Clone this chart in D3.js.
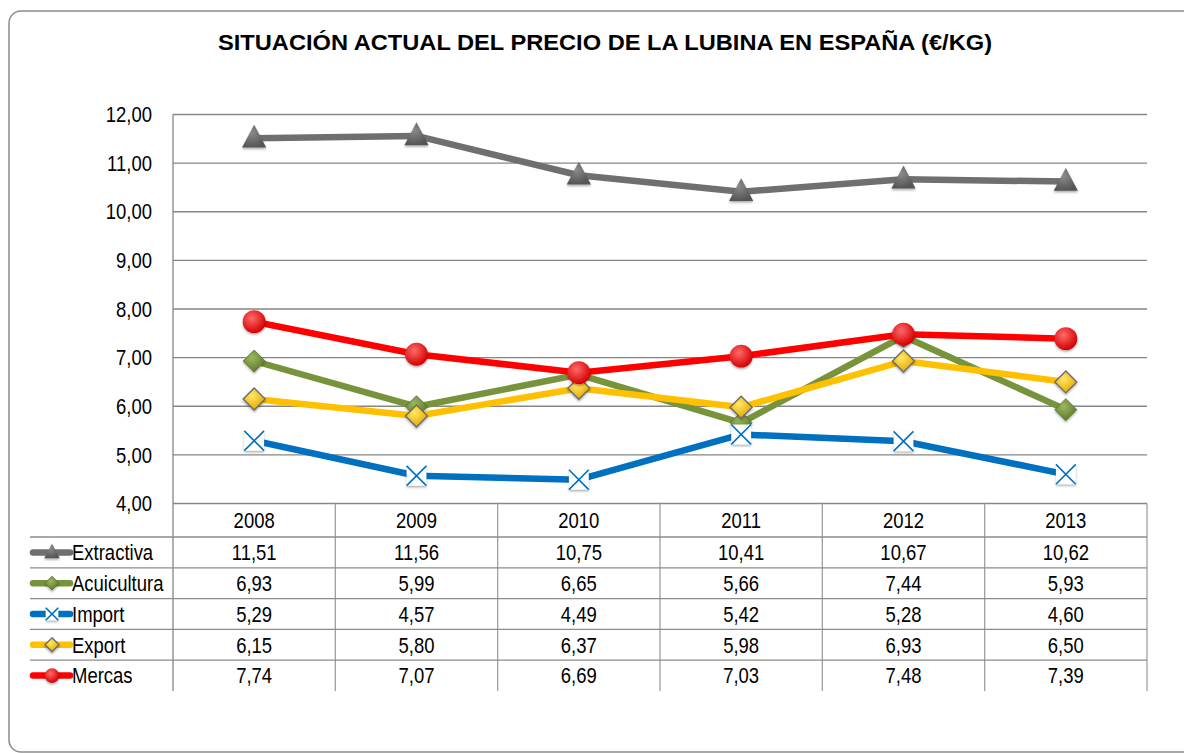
<!DOCTYPE html>
<html>
<head>
<meta charset="utf-8">
<script src="https://cdn.jsdelivr.net/npm/d3@7"></script>
<style>
  body { margin: 0; background: #fff; }
  text { font-family: "Liberation Sans", Arial, sans-serif; fill: #000; }
</style>
</head>
<body>
<svg id="chart"></svg>
<script>
var years = ["2008", "2009", "2010", "2011", "2012", "2013"];
var extractiva = [11.51, 11.56, 10.75, 10.41, 10.67, 10.62];
var acuicultura = [6.93, 5.99, 6.65, 5.66, 7.44, 5.93];
var importVals = [5.29, 4.57, 4.49, 5.42, 5.28, 4.60];
var exportVals = [6.15, 5.80, 6.37, 5.98, 6.93, 6.50];
var mercas = [7.74, 7.07, 6.69, 7.03, 7.48, 7.39];
var yTicks = [4, 5, 6, 7, 8, 9, 10, 11, 12];

var series = [
    { name: "Extractiva", values: extractiva, color: "#6f6f6f", marker: "triangle" },
    { name: "Acuicultura", values: acuicultura, color: "#77933c", marker: "diamondGreen" },
    { name: "Import", values: importVals, color: "#0070c0", marker: "cross" },
    { name: "Export", values: exportVals, color: "#ffc000", marker: "diamondYellow" },
    { name: "Mercas", values: mercas, color: "#ff0000", marker: "circle" }
];

var width = 1184, height = 753;
var plotLeft = 173, plotRight = 1147, plotTop = 114.5, plotBottom = 503.5;
var rowH = 30.8;
var headerBottom = 537;
var fontSize = 21.5;
var squeeze = 0.86;

var svg = d3.select("#chart").attr("width", width).attr("height", height);

var locale = d3.formatLocale({ decimal: ",", thousands: ".", grouping: [3], currency: ["", "€"] });
var fmt = locale.format(".2f");

// narrow-looking text like the original (tall glyphs, squeezed width)
function label(g, x, y, str, anchor) {
    return g.append("text")
        .attr("transform", `translate(${x},${y}) scale(${squeeze},1)`)
        .attr("dy", "0.36em")
        .attr("text-anchor", anchor)
        .attr("font-size", fontSize + "px")
        .text(str);
}

// gradients for the shiny markers
var defs = svg.append("defs");
function radial(id, light, dark) {
    var g = defs.append("radialGradient").attr("id", id)
        .attr("cx", "40%").attr("cy", "35%").attr("r", "65%");
    g.append("stop").attr("offset", "0%").attr("stop-color", light);
    g.append("stop").attr("offset", "100%").attr("stop-color", dark);
}
radial("gTri", "#8a8a8a", "#555555");
radial("gGreen", "#9bb85e", "#5e7a2a");
radial("gYellow", "#ffe866", "#e6a800");
radial("gRed", "#ff6a6a", "#d40000");
var sh = defs.append("filter").attr("id", "shadow").attr("x", "-50%").attr("y", "-50%").attr("width", "200%").attr("height", "200%");
sh.append("feDropShadow").attr("dx", 0).attr("dy", 1.5).attr("stdDeviation", 1.2).attr("flood-color", "#000").attr("flood-opacity", 0.35);

// outer frame
svg.append("rect")
    .attr("x", 9).attr("y", 11)
    .attr("width", 1200).attr("height", 741)
    .attr("rx", 12)
    .attr("fill", "none")
    .attr("stroke", "#8c8c8c")
    .attr("stroke-width", 1.5);

svg.append("text")
    .attr("x", 605).attr("y", 50)
    .attr("text-anchor", "middle")
    .attr("font-size", "22px")
    .attr("font-weight", "bold")
    .attr("textLength", 774)
    .attr("lengthAdjust", "spacingAndGlyphs")
    .text("SITUACIÓN ACTUAL DEL PRECIO DE LA LUBINA EN ESPAÑA  (€/KG)");

var x = d3.scaleBand().domain(years).range([plotLeft, plotRight]);
var y = d3.scaleLinear().domain([4, 12]).range([plotBottom, plotTop]);

// gridlines
svg.append("g").selectAll("line")
    .data(yTicks)
    .enter().append("line")
    .attr("x1", plotLeft).attr("x2", plotRight)
    .attr("y1", d => y(d)).attr("y2", d => y(d))
    .attr("stroke", "#868686").attr("stroke-width", 1.3);

// y axis labels
var yl = svg.append("g");
yTicks.forEach(function (t) { label(yl, 152, y(t), fmt(t), "end"); });

// table
var tableBottom = headerBottom + rowH * series.length;
var tbl = svg.append("g");
tbl.append("line")
    .attr("x1", plotLeft).attr("x2", plotLeft)
    .attr("y1", plotTop).attr("y2", tableBottom)
    .attr("stroke", "#868686").attr("stroke-width", 1.3);
tbl.selectAll(".vline")
    .data(years.slice(1).concat(["end"]))
    .enter().append("line")
    .attr("class", "vline")
    .attr("x1", (d, i) => i < 5 ? x(d) : plotRight)
    .attr("x2", (d, i) => i < 5 ? x(d) : plotRight)
    .attr("y1", plotBottom).attr("y2", tableBottom)
    .attr("stroke", "#a0a0a0").attr("stroke-width", 1.3);
tbl.selectAll(".hline")
    .data(series)
    .enter().append("line")
    .attr("class", "hline")
    .attr("x1", 30).attr("x2", plotRight)
    .attr("y1", (d, i) => headerBottom + i * rowH)
    .attr("y2", (d, i) => headerBottom + i * rowH)
    .attr("stroke", "#8c8c8c").attr("stroke-width", 1.3);

years.forEach(function (yr) {
    label(tbl, x(yr) + x.bandwidth() / 2, (plotBottom + headerBottom) / 2, yr, "middle");
});

function drawMarker(g, type, color, size) {
    var s = size;
    if (type === "triangle") {
        g.append("path")
            .attr("d", `M0,${-s * 0.62} L${s * 0.55},${s * 0.42} L${-s * 0.55},${s * 0.42} Z`)
            .attr("fill", "url(#gTri)")
            .attr("filter", "url(#shadow)");
    } else if (type === "diamondGreen" || type === "diamondYellow") {
        var h = s * 0.5;
        g.append("path")
            .attr("d", `M0,${-h} L${h},0 L0,${h} L${-h},0 Z`)
            .attr("fill", type === "diamondGreen" ? "url(#gGreen)" : "url(#gYellow)")
            .attr("stroke", type === "diamondGreen" ? "#5a7030" : "#6b6b6b")
            .attr("stroke-width", type === "diamondGreen" ? 0.8 : 1.3)
            .attr("filter", "url(#shadow)");
    } else if (type === "cross") {
        var c = s * 0.45;
        g.append("rect")
            .attr("x", -c).attr("y", -c).attr("width", 2 * c).attr("height", 2 * c)
            .attr("fill", "#fff")
            .attr("filter", "url(#shadow)");
        g.append("path")
            .attr("d", `M${-c},${-c} L${c},${c} M${c},${-c} L${-c},${c}`)
            .attr("stroke", color).attr("stroke-width", 1.6).attr("fill", "none");
    } else if (type === "circle") {
        g.append("circle")
            .attr("r", s * 0.52)
            .attr("fill", "url(#gRed)")
            .attr("filter", "url(#shadow)");
    }
}

var line = d3.line()
    .x((d, i) => x(years[i]) + x.bandwidth() / 2)
    .y(d => y(d));

series.forEach(function (s, si) {
    var g = svg.append("g");
    g.append("path")
        .datum(s.values)
        .attr("d", line)
        .attr("fill", "none")
        .attr("stroke", s.color)
        .attr("stroke-width", 6.5)
        .attr("stroke-linejoin", "round");
    g.selectAll(".m")
        .data(s.values)
        .enter().append("g")
        .attr("transform", (d, i) => `translate(${x(years[i]) + x.bandwidth() / 2},${y(d)})`)
        .each(function () { drawMarker(d3.select(this), s.marker, s.color, 22); });

    // table row
    var rowY = headerBottom + si * rowH + rowH / 2;
    var leg = svg.append("g");
    leg.append("line")
        .attr("x1", 33).attr("x2", 70)
        .attr("y1", rowY).attr("y2", rowY)
        .attr("stroke", s.color).attr("stroke-width", 6.5)
        .attr("stroke-linecap", "round");
    var lm = leg.append("g").attr("transform", `translate(52,${rowY})`);
    drawMarker(lm, s.marker, s.color, 14);
    label(leg, 72, rowY, s.name, "start");
    s.values.forEach(function (v, i) {
        label(leg, x(years[i]) + x.bandwidth() / 2, rowY, fmt(v), "middle");
    });
});
</script>
</body>
</html>
